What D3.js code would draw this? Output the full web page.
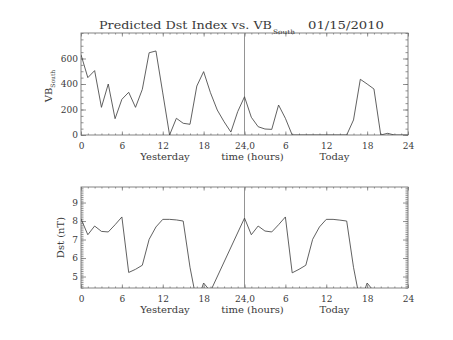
<!DOCTYPE html>
<html><head><meta charset="utf-8">
<script src="https://cdn.jsdelivr.net/npm/d3@7"></script>
<style>
html,body{margin:0;padding:0;background:#fff;}
svg{display:block;}
text{font-family:"DejaVu Serif",serif;fill:#3a3a3a;}
</style></head>
<body>
<script>
// ---- data ----
const titleMain = "Predicted Dst Index vs. VB";
const titleSub = "South";
const titleDate = "01/15/2010";
const xTickValues = [0, 6, 12, 18, 24, 30, 36, 42, 48];
const xTickLabels = ["0", "6", "12", "18", "24,0", "6", "12", "18", "24"];
const vbTickValues = [0, 200, 400, 600];
const dstTickValues = [5, 6, 7, 8, 9];
const vbHours = d3.range(0, 49);
const vbSouth = [630, 450, 505, 217, 400, 128, 280, 335, 217, 358, 645, 659, 330, 0, 131, 92, 84, 384, 497, 332, 196, 104, 23, 183,
                 300, 139, 65, 47, 44, 235, 131, 0, 0, 0, 0, 0, 0, 0, 0, 0, 118, 437, 400, 361, 0, 13, 0, 0, 0];
const dstHours = [0,1,2,3,4,5,6,7,8,9,10,11,12,13,14,15,16,17,18,19,
                  24,25,26,27,28,29,30,31,32,33,34,35,36,37,38,39,40,41,42,43];
const dstValues = [8.12, 7.26, 7.73, 7.44, 7.41, 7.80, 8.22, 5.22, 5.39, 5.61, 7.01, 7.68, 8.09, 8.09, 8.06, 8.00, 5.50, 3.60, 4.65, 4.20,
                   8.16, 7.26, 7.73, 7.46, 7.41, 7.80, 8.22, 5.20, 5.39, 5.61, 7.01, 7.68, 8.09, 8.09, 8.05, 8.00, 5.50, 3.60, 4.65, 4.20];

// ---- layout ----
const W = 453, H = 340;
const X0 = 81, X1 = 408;
const svg = d3.select("body").append("svg").attr("width", W).attr("height", H);
const x = d3.scaleLinear().domain([0, 48]).range([X0, X1]);
const textColor = "#3a3a3a";

function panel(id, yTop, yBot, yDomain, yMajor, yMinorStep, hours, vals, yLabelFn) {
  const y = d3.scaleLinear().domain(yDomain).range([yBot, yTop]);
  const g = svg.append("g");
  const axisColor = "#777";
  svg.append("clipPath").attr("id", id).append("rect")
     .attr("x", X0).attr("y", yTop).attr("width", X1 - X0).attr("height", yBot - yTop);
  const yMinor = d3.range(Math.ceil(yDomain[0] / yMinorStep) * yMinorStep, yDomain[1] + 1e-9, yMinorStep);
  const xMinor = d3.range(0, 49, 1);
  const fmt = (d) => xTickLabels[xTickValues.indexOf(d)];
  const style = sel => { sel.select(".domain").remove(); sel.selectAll("line").attr("stroke", axisColor).attr("stroke-width", 0.8); sel.selectAll("text").attr("font-family", "DejaVu Serif").attr("font-size", 9).attr("fill", textColor); };
  g.append("g").attr("transform", `translate(0,${yBot})`)
    .call(d3.axisBottom(x).tickValues(xMinor).tickSize(-1.5).tickSizeOuter(0).tickFormat(""))
    .call(style);
  g.append("g").attr("transform", `translate(0,${yBot})`)
    .call(d3.axisBottom(x).tickValues(xTickValues).tickSize(-3.5).tickSizeOuter(0).tickPadding(8).tickFormat(fmt))
    .call(style);
  g.append("g").attr("transform", `translate(0,${yTop})`)
    .call(d3.axisTop(x).tickValues(xMinor).tickSize(-1.5).tickSizeOuter(0).tickFormat(""))
    .call(style);
  g.append("g").attr("transform", `translate(0,${yTop})`)
    .call(d3.axisTop(x).tickValues(xTickValues).tickSize(-3.5).tickSizeOuter(0).tickFormat(""))
    .call(style);
  g.append("g").attr("transform", `translate(${X0},0)`)
    .call(d3.axisLeft(y).tickValues(yMinor).tickSize(-2.5).tickSizeOuter(0).tickFormat(""))
    .call(style);
  g.append("g").attr("transform", `translate(${X0},0)`)
    .call(d3.axisLeft(y).tickValues(yMajor).tickSize(-5).tickSizeOuter(0).tickPadding(3).tickFormat(yLabelFn))
    .call(style);
  g.append("g").attr("transform", `translate(${X1},0)`)
    .call(d3.axisRight(y).tickValues(yMinor).tickSize(-2.5).tickSizeOuter(0).tickFormat(""))
    .call(style);
  g.append("g").attr("transform", `translate(${X1},0)`)
    .call(d3.axisRight(y).tickValues(yMajor).tickSize(-5).tickSizeOuter(0).tickFormat(""))
    .call(style);
  g.append("rect").attr("x", X0).attr("y", yTop).attr("width", X1 - X0).attr("height", yBot - yTop)
    .attr("fill", "none").attr("stroke", axisColor).attr("stroke-width", 0.9);
  g.append("line").attr("x1", x(24)).attr("x2", x(24)).attr("y1", yTop).attr("y2", yBot)
    .attr("stroke", "#888").attr("stroke-width", 0.9);
  const pts = hours.map((h, i) => [h, vals[i]]);
  g.append("path").datum(pts)
    .attr("clip-path", `url(#${id})`)
    .attr("d", d3.line().x(d => x(d[0])).y(d => y(d[1])))
    .attr("fill", "none").attr("stroke", "#444").attr("stroke-width", 0.85);
  const tsz = 10;
  g.append("text").attr("x", 165).attr("y", yBot + 25).attr("text-anchor", "middle").attr("font-size", tsz).text("Yesterday");
  g.append("text").attr("x", 252.5).attr("y", yBot + 25).attr("text-anchor", "middle").attr("font-size", tsz).text("time (hours)");
  g.append("text").attr("x", 334.5).attr("y", yBot + 25).attr("text-anchor", "middle").attr("font-size", tsz).text("Today");
  return y;
}

panel("clipTop", 33, 135, [0, 800], vbTickValues, 50, vbHours, vbSouth, d => String(d));
panel("clipBot", 187, 288, [4.38, 9.84], dstTickValues, 0.1, dstHours, dstValues, d => String(d));

const vbT = svg.append("text").attr("transform", "translate(52,86) rotate(-90)").attr("text-anchor", "middle").attr("font-size", 10);
vbT.append("tspan").text("VB");
vbT.append("tspan").attr("dy", 3).attr("font-size", 6).text("South");
svg.append("text").attr("transform", "translate(64,237.5) rotate(-90)").attr("text-anchor", "middle").attr("font-size", 10).text("Dst (nT)");

svg.append("text").attr("x", 99).attr("y", 28.5).attr("font-size", 11)
  .attr("textLength", 173).attr("lengthAdjust", "spacingAndGlyphs").text(titleMain);
svg.append("text").attr("x", 273).attr("y", 33.5).attr("font-size", 6)
  .attr("textLength", 22).attr("lengthAdjust", "spacingAndGlyphs").text(titleSub);
svg.append("text").attr("x", 308).attr("y", 28.5).attr("font-size", 11)
  .attr("textLength", 76).attr("lengthAdjust", "spacingAndGlyphs").text(titleDate);
</script>
</body></html>
